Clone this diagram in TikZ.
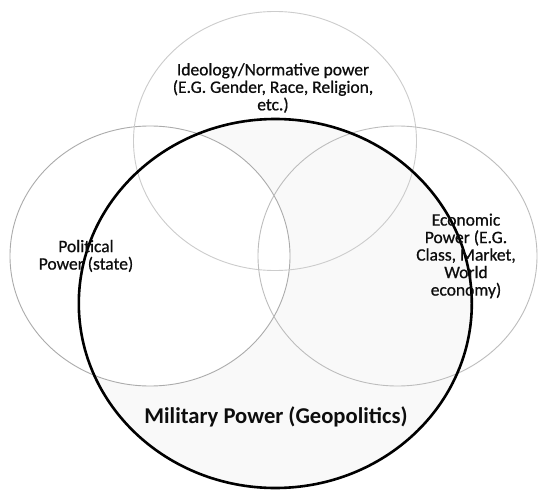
\documentclass[tikz,border=0pt]{standalone}
\usepackage{fontspec}
\setmainfont{Carlito}
\newfontfamily\labelfont[FakeBold=0.7]{Carlito}
\usetikzlibrary{shapes.geometric}

\tikzset{
  ring/.style={ellipse, inner sep=0pt, outer sep=0pt},
  thinring/.style={ring, line width=0.9pt},
  label/.style={align=center, inner sep=0pt, text=black!95,
    font=\labelfont\fontsize{17.5}{17.5}\selectfont},
  biglabel/.style={inner sep=0pt, text=black!95,
    font=\fontsize{22.6}{24}\selectfont\bfseries}
}

\begin{document}
\begin{tikzpicture}[x=1pt,y=-1pt]
  % canvas
  \fill[white] (0,0) rectangle (538,492);
  \useasboundingbox (0,0) rectangle (538,492);

  % military sphere: pale grey disc underneath everything
  \node[ring, fill=black!2.5, minimum width=393pt, minimum height=369pt] (mil) at (275.3,303.5) {};

  % political sphere sits on top of it with a white fill
  \node[thinring, fill=white, draw=black!33, minimum width=280pt, minimum height=260pt] (pol) at (150,256) {};

  % ideological and economic spheres: outlines only
  \node[thinring, draw=black!20, minimum width=283pt, minimum height=259pt] (ideo) at (275,141) {};
  \node[thinring, draw=black!26, minimum width=279pt, minimum height=260pt] (econ) at (397.5,256) {};

  % bold outline of the military sphere
  \node[ring, draw=black, line width=2.6pt, minimum width=393pt, minimum height=369pt] (milring) at (mil.center) {};

  % labels
  \node[label] (ideotext) at (273,88) {Ideology/Normative power\\(E.G. Gender, Race, Religion,\\etc.)};
  \node[label] (poltext) at (86,256) {Political\\Power (state)};
  \node[label] (econtext) at (466,256) {Economic\\Power (E.G.\\Class, Market,\\World\\economy)};
  \node[biglabel] (miltext) at (276,417) {Military Power (Geopolitics)};
\end{tikzpicture}
\end{document}
